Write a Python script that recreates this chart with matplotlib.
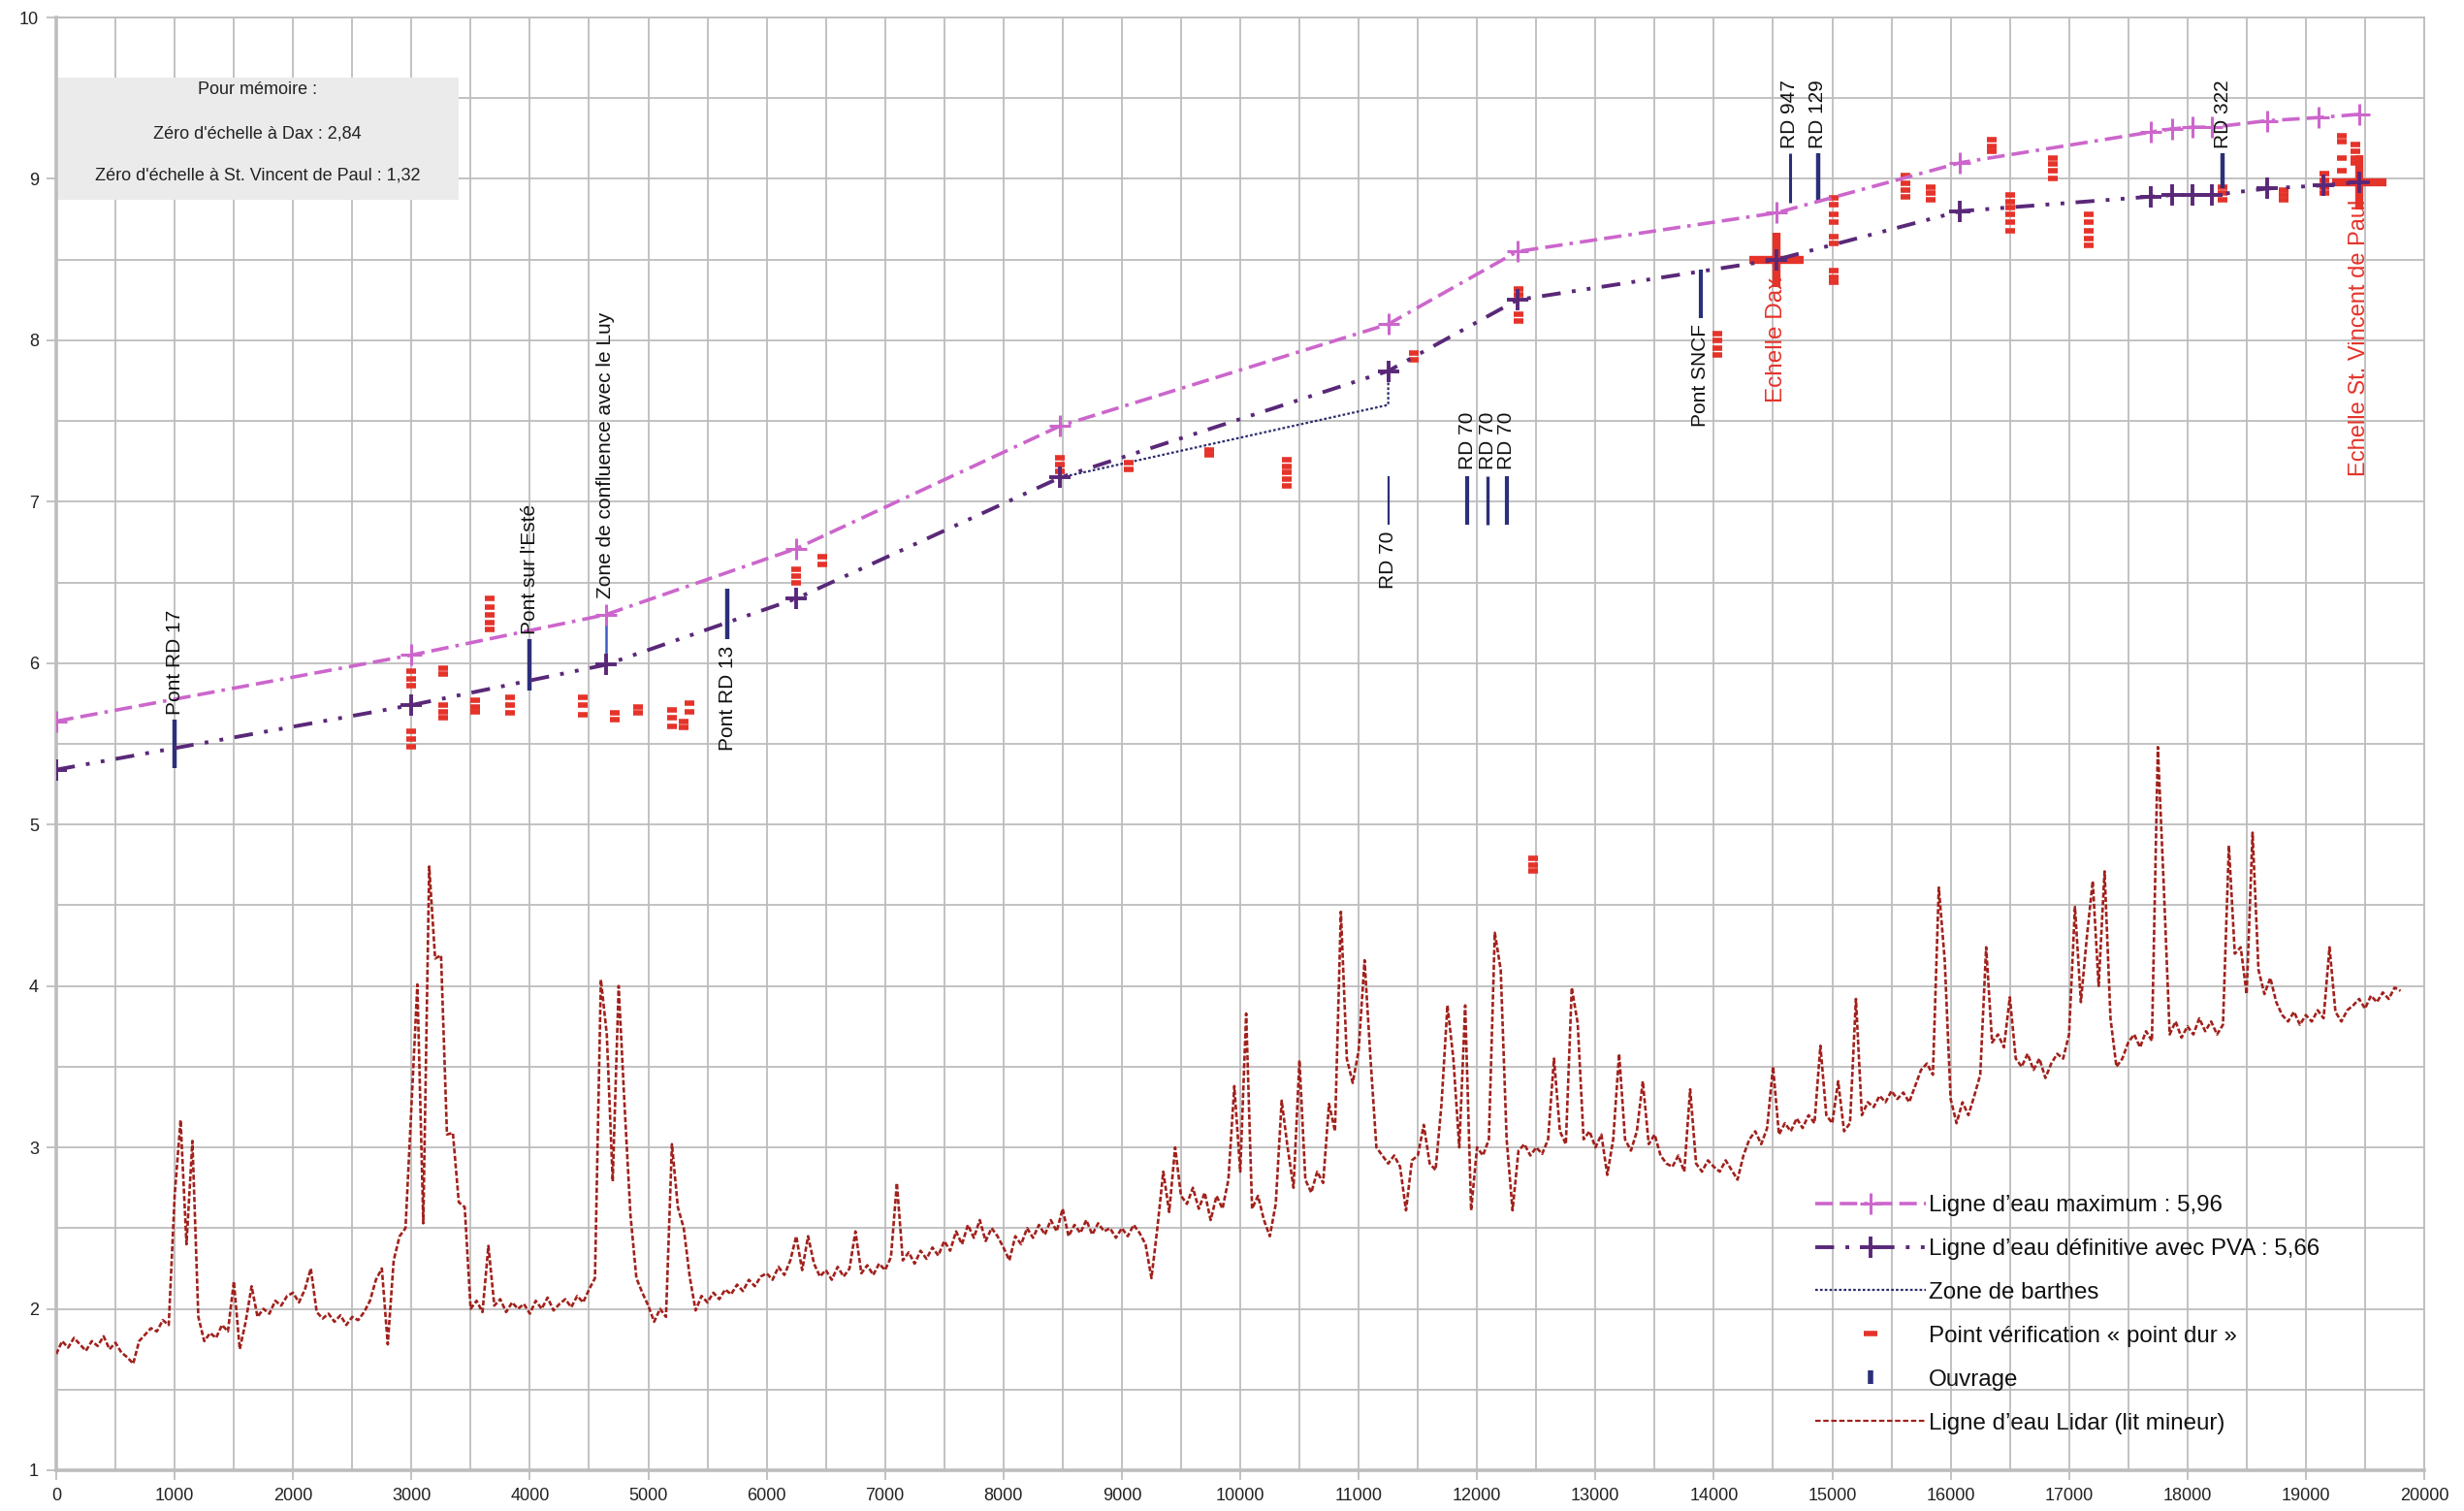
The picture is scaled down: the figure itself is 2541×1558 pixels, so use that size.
import numpy as np
import matplotlib
matplotlib.use('Agg')
import matplotlib.pyplot as plt
from matplotlib.lines import Line2D
from matplotlib.patches import Rectangle
from matplotlib.ticker import MultipleLocator, FormatStrFormatter

plt.rcParams['font.family'] = ['Liberation Sans', 'DejaVu Sans']

# ---------------- data ----------------
max_x = [0, 3000, 4640, 6250, 8480, 11250, 12340, 14530, 16080, 17690, 17870, 18040, 18210, 18670, 19110, 19450]
max_y = [5.64, 6.05, 6.30, 6.71, 7.47, 8.10, 8.55, 8.79, 9.10, 9.29, 9.31, 9.32, 9.32, 9.36, 9.38, 9.40]

pva_x = [0, 3000, 4640, 6250, 8480, 11250, 12340, 14530, 16080, 17690, 17870, 18040, 18210, 18670, 19150, 19450]
pva_y = [5.34, 5.74, 5.99, 6.40, 7.15, 7.81, 8.25, 8.50, 8.80, 8.89, 8.90, 8.90, 8.90, 8.94, 8.96, 8.98]

barthes_x = [8480, 11250, 11250]
barthes_y = [7.15, 7.60, 7.81]

echelle_x = [14530, 19450]
echelle_y = [8.50, 8.98]
echelle_labels = ['Echelle Dax', 'Echelle St. Vincent de Paul']

ouv_x = [1000, 4000, 4640, 5670, 11250, 11920, 12090, 12250, 13890, 14640, 14880, 18300]
ouv_ymin = [5.35, 5.83, 5.99, 6.15, 6.86, 6.86, 6.86, 6.86, 8.14, 8.85, 8.85, 8.94]
ouv_ymax = [5.65, 6.15, 6.30, 6.46, 7.16, 7.16, 7.16, 7.16, 8.44, 9.16, 9.16, 9.16]
ouv_labels = ['Pont RD 17', "Pont sur l'Esté", 'Zone de confluence avec le Luy', 'Pont RD 13',
              'RD 70', 'RD 70', 'RD 70', 'RD 70', 'Pont SNCF', 'RD 947', 'RD 129', 'RD 322']

pd_x = [3000, 3000, 3000, 3000, 3000, 3000,
        3270, 3270, 3270, 3270, 3270,
        3540, 3540, 3540,
        3660, 3660, 3660, 3660, 3660,
        3830, 3830, 3830,
        4450, 4450, 4450,
        4720, 4720,
        4910, 4910,
        5200, 5200, 5200,
        5300, 5300,
        5350, 5350,
        6250, 6250, 6250,
        6470, 6470,
        8480, 8480, 8480,
        9060, 9060,
        9740, 9740,
        10390, 10390, 10390, 10390, 10390,
        11470, 11470,
        12350, 12350, 12350, 12350,
        12470, 12470, 12470,
        14030, 14030, 14030, 14030,
        15010, 15010, 15010, 15010, 15010, 15010, 15010, 15010, 15010,
        15620, 15620, 15620, 15620,
        15830, 15830, 15830,
        16345, 16345, 16345,
        16500, 16500, 16500, 16500, 16500, 16500,
        16860, 16860, 16860, 16860,
        17170, 17170, 17170, 17170, 17170,
        18300, 18300, 18300,
        18810, 18810, 18810,
        19160, 19160, 19160, 19160,
        19300, 19300, 19300, 19300,
        19420, 19420, 19420, 19420]
pd_y = [5.95, 5.90, 5.86, 5.58, 5.53, 5.48,
        5.97, 5.93, 5.74, 5.70, 5.66,
        5.77, 5.73, 5.70,
        6.40, 6.35, 6.30, 6.25, 6.21,
        5.79, 5.74, 5.69,
        5.79, 5.74, 5.68,
        5.69, 5.65,
        5.73, 5.69,
        5.71, 5.66, 5.61,
        5.64, 5.60,
        5.75, 5.70,
        6.58, 6.54, 6.50,
        6.66, 6.61,
        7.27, 7.23, 7.19,
        7.24, 7.20,
        7.32, 7.29,
        7.26, 7.22, 7.18, 7.14, 7.10,
        7.92, 7.88,
        8.32, 8.28, 8.16, 8.12,
        4.79, 4.75, 4.71,
        8.04, 8.00, 7.95, 7.91,
        8.88, 8.84, 8.78, 8.73, 8.64, 8.60, 8.43, 8.39, 8.36,
        9.02, 8.97, 8.93, 8.89,
        8.95, 8.91, 8.87,
        9.24, 9.20, 9.17,
        8.90, 8.86, 8.82, 8.78, 8.73, 8.68,
        9.13, 9.09, 9.05, 9.00,
        8.78, 8.73, 8.68, 8.63, 8.59,
        8.95, 8.91, 8.87,
        8.93, 8.90, 8.87,
        9.03, 8.99, 8.95, 8.91,
        9.27, 9.23, 9.13, 9.05,
        9.21, 9.17, 9.13, 9.10]

lidar_step = 50
lidar_y = [
    1.72, 1.80, 1.76, 1.82, 1.78, 1.74, 1.80, 1.77, 1.83, 1.75, 1.79, 1.73, 1.70, 1.66, 1.80, 1.84, 1.88, 1.86, 1.93, 1.90,
    2.70, 3.17, 2.40, 3.04, 1.95, 1.80, 1.85, 1.82, 1.90, 1.86, 2.17, 1.75, 1.92, 2.14, 1.95, 2.00, 1.97, 2.05, 2.02, 2.08,
    2.10, 2.04, 2.12, 2.25, 1.98, 1.94, 1.97, 1.92, 1.96, 1.90, 1.95, 1.93, 1.98, 2.05, 2.18, 2.25, 1.78, 2.30, 2.45, 2.50,
    3.25, 4.01, 2.53, 4.74, 4.17, 4.19, 3.08, 3.09, 2.66, 2.63, 2.00, 2.05, 1.98, 2.39, 2.02, 2.06, 1.98, 2.04, 2.00, 2.03,
    1.97, 2.05, 2.00, 2.07, 1.99, 2.03, 2.06, 2.01, 2.08, 2.04, 2.12, 2.19, 4.04, 3.70, 2.79, 4.00, 3.26, 2.58, 2.19, 2.10,
    2.02, 1.92, 2.00, 1.95, 3.02, 2.63, 2.50, 2.20, 1.99, 2.08, 2.04, 2.10, 2.06, 2.12, 2.09, 2.15, 2.11, 2.18, 2.14, 2.20,
    2.22, 2.18, 2.26, 2.21, 2.30, 2.45, 2.24, 2.45, 2.28, 2.20, 2.24, 2.18, 2.26, 2.20, 2.25, 2.48, 2.22, 2.27, 2.21, 2.28,
    2.24, 2.32, 2.78, 2.30, 2.35, 2.28, 2.36, 2.31, 2.38, 2.33, 2.42, 2.36, 2.48, 2.40, 2.52, 2.44, 2.55, 2.42, 2.50, 2.45,
    2.38, 2.30, 2.45, 2.40, 2.50, 2.44, 2.52, 2.46, 2.55, 2.48, 2.62, 2.45, 2.52, 2.47, 2.55, 2.46, 2.53, 2.48, 2.50, 2.44,
    2.50, 2.45, 2.52, 2.47, 2.40, 2.19, 2.50, 2.85, 2.60, 3.00, 2.70, 2.65, 2.75, 2.62, 2.72, 2.55, 2.70, 2.62, 2.80, 3.38,
    2.85, 3.83, 2.62, 2.70, 2.55, 2.45, 2.65, 3.29, 3.00, 2.75, 3.54, 2.80, 2.72, 2.85, 2.78, 3.27, 3.10, 4.46, 3.55, 3.40,
    3.60, 4.16, 3.55, 3.00, 2.95, 2.90, 2.95, 2.88, 2.61, 2.92, 2.95, 3.14, 2.90, 2.86, 3.27, 3.88, 3.55, 3.00, 3.88, 2.61,
    3.00, 2.95, 3.05, 4.33, 4.10, 3.05, 2.61, 2.98, 3.02, 2.95, 3.00, 2.96, 3.05, 3.55, 3.10, 3.02, 3.99, 3.77, 3.05, 3.10,
    3.00, 3.08, 2.83, 3.05, 3.58, 3.05, 2.98, 3.10, 3.41, 3.02, 3.08, 2.95, 2.90, 2.88, 2.95, 2.85, 3.36, 2.90, 2.85, 2.92,
    2.88, 2.85, 2.92, 2.86, 2.80, 2.95, 3.05, 3.10, 3.02, 3.12, 3.50, 3.08, 3.15, 3.10, 3.18, 3.12, 3.20, 3.15, 3.63, 3.20,
    3.15, 3.41, 3.10, 3.15, 3.92, 3.20, 3.28, 3.25, 3.32, 3.28, 3.35, 3.30, 3.34, 3.28, 3.38, 3.48, 3.52, 3.45, 4.61, 4.16,
    3.30, 3.15, 3.28, 3.20, 3.32, 3.45, 4.24, 3.65, 3.70, 3.62, 3.93, 3.55, 3.50, 3.58, 3.48, 3.55, 3.43, 3.52, 3.58, 3.55,
    3.70, 4.49, 3.90, 4.30, 4.65, 4.00, 4.71, 3.80, 3.50, 3.55, 3.65, 3.70, 3.62, 3.72, 3.66, 5.48, 4.62, 3.70, 3.78, 3.68,
    3.75, 3.70, 3.80, 3.72, 3.78, 3.70, 3.76, 4.87, 4.20, 4.24, 3.95, 4.95, 4.10, 3.95, 4.05, 3.90, 3.82, 3.78, 3.84, 3.76,
    3.82, 3.78, 3.85, 3.80, 4.24, 3.84, 3.78, 3.85, 3.88, 3.92, 3.86, 3.94, 3.90, 3.96, 3.92, 3.99, 3.97]
lidar_x = np.arange(len(lidar_y)) * lidar_step

legend_labels = ["Ligne d\u2019eau maximum : 5,96",
                 "Ligne d\u2019eau définitive avec PVA : 5,66",
                 "Zone de barthes",
                 "Point vérification « point dur »",
                 "Ouvrage",
                 "Ligne d\u2019eau Lidar (lit mineur)"]

memo_lines = ["Pour mémoire :",
              "Zéro d'échelle à Dax : 2,84",
              "Zéro d'échelle à St. Vincent de Paul : 1,32"]

# ---------------- styles ----------------
C_MAX = '#CC66CC'
C_PVA = '#5A2878'
C_BAR = '#2B2F7A'
C_RED = '#E5332A'
C_LID = '#A1211C'
C_GRID = '#BDBDBD'

W, H = 2541, 1558
fig = plt.figure(figsize=(W / 100, H / 100), dpi=100)
ax = fig.add_axes([58 / W, 1 - 1516 / H, (2500 - 58) / W, (1516 - 18) / H])
ax.set_xlim(0, 20000)
ax.set_ylim(1, 10)
ax.xaxis.set_major_locator(MultipleLocator(1000))
ax.xaxis.set_minor_locator(MultipleLocator(500))
ax.yaxis.set_major_locator(MultipleLocator(1))
ax.yaxis.set_minor_locator(MultipleLocator(0.5))
ax.xaxis.set_major_formatter(FormatStrFormatter('%d'))
ax.yaxis.set_major_formatter(FormatStrFormatter('%d'))
ax.grid(which='both', color=C_GRID, lw=1.3)
ax.set_axisbelow(True)
ax.tick_params(which='major', length=7, width=1.3, color=C_GRID, labelsize=13, pad=6, labelcolor='#222222')
ax.tick_params(which='minor', length=0)
for s in ax.spines.values():
    s.set_color(C_GRID)
    s.set_linewidth(1.3)
ax.spines['left'].set_linewidth(2.6)
ax.spines['bottom'].set_linewidth(2.6)

# memo box
ax.add_patch(Rectangle((0, 8.87), 3400, 0.76, facecolor='#EBEBEB', edgecolor='none', zorder=2))
for t, yy in zip(memo_lines, [9.55, 9.28, 9.02]):
    ax.text(1700, yy, t, ha='center', va='center', fontsize=13, color='#222222', zorder=3)

# lidar line
ax.plot(lidar_x, lidar_y, color=C_LID, lw=1.9, ls=(0, (2.0, 0.9)), zorder=3)

# barthes
ax.plot(barthes_x, barthes_y, color='#2B2B6E', lw=1.6, ls=(0, (1.2, 1.0)), zorder=4)

# point dur
ax.plot(pd_x, pd_y, ls='none', marker='_', ms=7, mew=4, color=C_RED, zorder=4)

# ouvrages
ouv_lw = [3.2, 3.2, 1.8, 3.2, 1.6, 3.0, 2.4, 3.0, 3.0, 2.2, 3.2, 3.2]
ouv_col = [C_BAR, C_BAR, '#3E5CC8', C_BAR, C_BAR, C_BAR, C_BAR, C_BAR, C_BAR, C_BAR, C_BAR, C_BAR]
ax.vlines(ouv_x, ouv_ymin, ouv_ymax, colors=ouv_col, linewidths=ouv_lw, zorder=4)
ouv_pos = ['above', 'above', 'above', 'below', 'below', 'above', 'above', 'above', 'below', 'above', 'above', 'above']
ouv_gap = [0.03, 0.03, 0.10, 0.04, 0.04, 0.04, 0.04, 0.04, 0.04, 0.03, 0.03, 0.03]
for xx, y0, y1, lab, pos, g in zip(ouv_x, ouv_ymin, ouv_ymax, ouv_labels, ouv_pos, ouv_gap):
    if pos == 'above':
        ax.text(xx, y1 + g, lab, rotation=90, ha='center', va='bottom', fontsize=15, color='#111111', zorder=6)
    else:
        ax.text(xx, y0 - g, lab, rotation=90, ha='center', va='top', fontsize=15, color='#111111', zorder=6)

# échelles
ax.plot(echelle_x, echelle_y, ls='none', marker='+', ms=40, mew=6, color=C_RED, zorder=5)
for xx, yy, lab, fs in zip(echelle_x, echelle_y, echelle_labels, [17.5, 17]):
    ax.text(xx, yy - 0.11, lab, rotation=90, ha='center', va='top', fontsize=fs, color=C_RED, zorder=6)

# water lines
max_ls = (0, (5, 2, 5, 2, 1, 2))
pva_ls = (0, (5, 3, 1, 3, 1, 3))
ax.plot(max_x, max_y, color=C_MAX, lw=2.6, ls=max_ls, marker='+', ms=16, mew=2.2, zorder=5.5)
ax.plot(pva_x, pva_y, color=C_PVA, lw=2.8, ls=pva_ls, marker='+', ms=16, mew=2.8, zorder=5.6)

# legend
handles = [
    Line2D([], [], color=C_MAX, lw=2.6, ls=max_ls, marker='+', ms=16, mew=2.2),
    Line2D([], [], color=C_PVA, lw=2.8, ls=pva_ls, marker='+', ms=16, mew=2.8),
    Line2D([], [], color='#2B2B6E', lw=1.6, ls=(0, (1.2, 1.0))),
    Line2D([], [], ls='none', marker='_', ms=10, mew=4, color=C_RED),
    Line2D([], [], ls='none', marker='|', ms=10, mew=4, color=C_BAR),
    Line2D([], [], color=C_LID, lw=1.6, ls=(0, (2.5, 1.2))),
]
leg = fig.legend(handles, legend_labels, loc='upper left', bbox_to_anchor=(1872 / W, 1 - 1232 / H),
                 frameon=False, fontsize=17.4, handlelength=4.7, handletextpad=0.15,
                 labelspacing=0.95, borderpad=0, borderaxespad=0, numpoints=1)
for t in leg.get_texts():
    t.set_color('#111111')

fig.savefig('out.png', dpi=100)
